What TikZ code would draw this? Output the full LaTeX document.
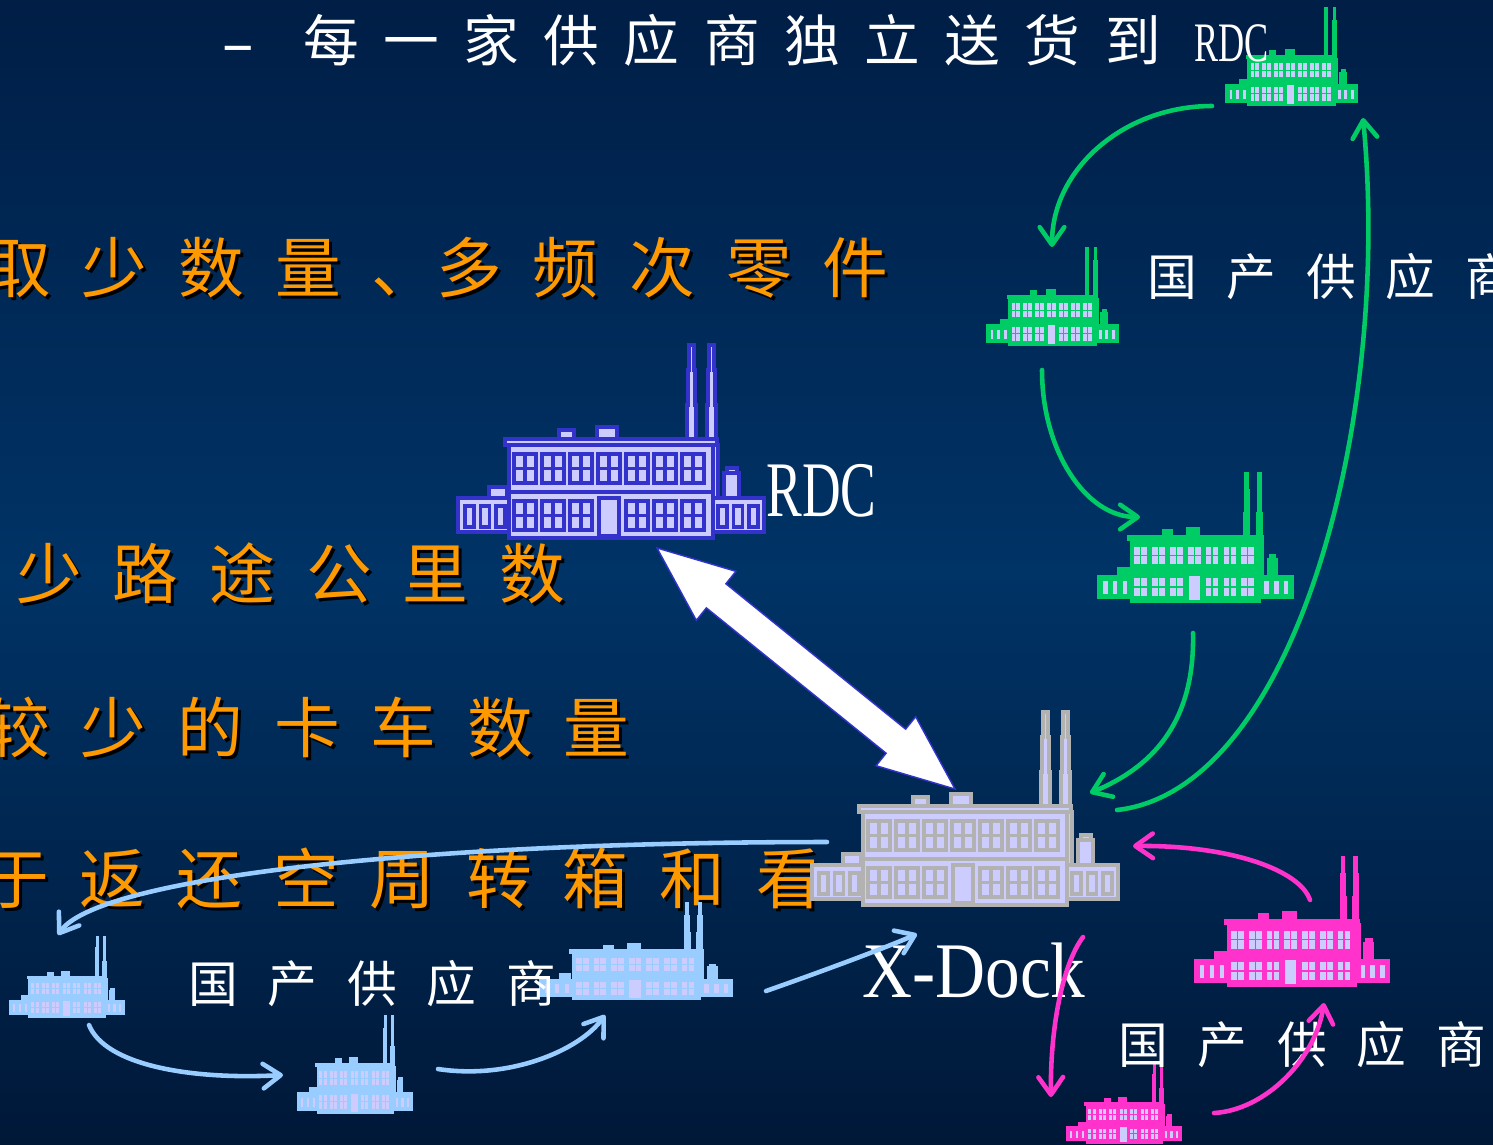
\documentclass[tikz,border=0pt]{standalone}
\usepackage{graphicx}
\usepackage{fontspec}
\setmainfont{Liberation Serif}
\newfontfamily\cjk{Noto Sans CJK SC}
\usetikzlibrary{arrows.meta,calc}

\definecolor{bgtop}{HTML}{001E46}
\definecolor{bgmid}{HTML}{003366}
\definecolor{bgbot}{HTML}{001838}
\definecolor{lav}{HTML}{CCCCFF}
\definecolor{rdcblue}{HTML}{3333CC}
\definecolor{dockgray}{HTML}{B2B2B2}
\definecolor{fgreen}{HTML}{00CC66}
\definecolor{fpink}{HTML}{FF33CC}
\definecolor{fsky}{HTML}{99CCFF}
\definecolor{amber}{HTML}{FF9900}

\tikzset{
  % factory: #1 outline, #2 walls, #3 window panes
  pics/factory/.style n args={3}{code={
    \foreach \cx in {229,249}
      \filldraw[draw=#1,fill=#2] (\cx,96) -- (\cx,60) -- (\cx+1,60) -- (\cx+1,25) -- (\cx+2,25) -- (\cx+2,0)
        -- (\cx+7,0) -- (\cx+7,25) -- (\cx+8,25) -- (\cx+8,60) -- (\cx+9,60) -- (\cx+9,96) -- cycle;
    \filldraw[draw=#1,fill=#2] (101,85) rectangle (116,96) (139,82) rectangle (159,96)
      (31,142) rectangle (49,153) (269,123) rectangle (279,128) (266,128) rectangle (281,153);
    \filldraw[draw=#1,fill=#2] (0,153) rectangle (51,187) (255,153) rectangle (306,187);
    \filldraw[draw=#1,fill=#2] (51,98) rectangle (255,193);
    \filldraw[draw=#1,fill=#2] (47,94) rectangle (259,100);
    \filldraw[draw=#1,fill=#2] (255,100) rectangle (260,153);
    \draw[#1] (51,147) -- (255,147);
    \foreach \k in {0,...,6} {
      \filldraw[draw=#1,fill=#3] (56+28*\k,109) rectangle +(22,29);
      \draw[#1] (67+28*\k,109) -- +(0,29) (56+28*\k,123.5) -- +(22,0);
    }
    \foreach \k in {0,1,2,4,5,6} {
      \filldraw[draw=#1,fill=#3] (56+28*\k,156) rectangle +(22,29);
      \draw[#1] (67+28*\k,156) -- +(0,29) (56+28*\k,170.5) -- +(22,0);
    }
    \filldraw[draw=#1,fill=#3] (141,153) rectangle (161,191);
    \foreach \wx in {7,22.5,38,260,275.5,291}
      \filldraw[draw=#1,fill=#3] (\wx,161) rectangle +(9,21);
  }},
  otext/.style={anchor=west, inner sep=0pt, text=amber,
    font={\fontsize{37.4}{40}\cjk\addfontfeatures{LetterSpace=47}}},
  oshadow/.style={otext, text=black},
  wtext/.style={anchor=west, inner sep=0pt, text=white,
    font={\fontsize{28.3}{30}\cjk\addfontfeatures{LetterSpace=60}}},
  title/.style={anchor=west, inner sep=0pt, text=white, font={\fontsize{31.7}{34}\selectfont}},
  lbl/.style={anchor=west, inner sep=0pt, text=white, font={\fontsize{44.8}{48}\selectfont}},
  bigarrow/.style={fill=white, draw=rdcblue, line width=0.8pt},
  flow/.style={line width=2.6pt, line cap=round, -{Straight Barb[length=10pt,width=14pt,round]}},
  gflow/.style={flow, draw=fgreen},
  pflow/.style={flow, draw=fpink},
  bflow/.style={flow, draw=fsky},
}

\begin{document}
\begin{tikzpicture}[x=0.02cm, y=-0.02cm]
  \useasboundingbox (0,0) rectangle (1493,1144);
  \clip (0,0) rectangle (1493,1144);
  \shade[top color=bgtop, bottom color=bgbot, middle color=bgmid] (0,0) rectangle (1493,1144);

  % orange bullet lines with drop shadow
  \foreach \nm/\x/\y/\txt in {ln1a/-15/268/取少数量、, ln1b/436/268/多频次零件, ln2/16/573/少路途公里数,
      ln3/-16/727/较少的卡车数量, ln4/-17/879/于返还空周转箱和看} {
    \node[oshadow] (\nm-s) at (\x+3,\y+3) {\txt};
    \node[otext] (\nm) at (\x,\y) {\txt};
  }

  % factories
  \pic[line width=2pt] (rdc) at (458,345) {factory={rdcblue}{lav}{lav}};
  \pic[line width=2pt] (dock) at (812,712) {factory={dockgray}{lav}{lav}};
  \pic[xscale=0.428, yscale=0.503, line width=0.6pt] (g1) at (1226,8) {factory={fgreen}{fgreen}{lav}};
  \pic[xscale=0.428, yscale=0.503, line width=0.6pt] (g2) at (987,248) {factory={fgreen}{fgreen}{lav}};
  \pic[xscale=0.637, yscale=0.668, line width=0.8pt] (g3) at (1098,473) {factory={fgreen}{fgreen}{lav}};
  \pic[xscale=0.634, yscale=0.668, line width=0.8pt] (p1) at (1195,857) {factory={fpink}{fpink}{lav}};
  \pic[xscale=0.373, yscale=0.41, line width=0.6pt] (p2) at (1067,1064) {factory={fpink}{fpink}{lav}};
  \pic[xscale=0.373, yscale=0.415, line width=0.6pt] (b1) at (10,937) {factory={fsky}{fsky}{lav}};
  \pic[xscale=0.373, yscale=0.503, line width=0.6pt] (b2) at (298,1016) {factory={fsky}{fsky}{lav}};
  \pic[xscale=0.63, yscale=0.5, line width=0.7pt] (b3) at (540,903) {factory={fsky}{fsky}{lav}};

  % white labels
  \node[title] (head) at (221,40) {\scalebox{1.8}[1]{-}\hspace{27.5pt}{\cjk\addfontfeatures{LetterSpace=44}每一家供应商独立送货到}\hspace{19pt}\scalebox{0.65}[1]{RDC}};
  \node[lbl] (rdc_lbl) at (766,491) {\scalebox{0.68}[1]{RDC}};
  \node[lbl] (dock_lbl) at (862,971) {\scalebox{0.88}[1]{X-Dock}};
  \node[wtext] (sup_a) at (1147,277) {国产供应商};
  \node[wtext] (sup_b) at (188,984) {国产供应商};
  \node[wtext] (sup_c) at (1118,1045) {国产供应商};

  % RDC <-> X-Dock
  \coordinate (rdc_tip) at (657,548);
  \coordinate (dock_tip) at (955,789);
  \filldraw[bigarrow] (rdc_tip)
    -- ($(rdc_tip)!0.1984!(dock_tip)!0.63cm!90:(dock_tip)$)
    -- ($(rdc_tip)!0.1984!(dock_tip)!0.31cm!90:(dock_tip)$)
    -- ($(rdc_tip)!0.8016!(dock_tip)!0.31cm!90:(dock_tip)$)
    -- ($(rdc_tip)!0.8016!(dock_tip)!0.63cm!90:(dock_tip)$)
    -- (dock_tip)
    -- ($(rdc_tip)!0.8016!(dock_tip)!0.63cm!-90:(dock_tip)$)
    -- ($(rdc_tip)!0.8016!(dock_tip)!0.31cm!-90:(dock_tip)$)
    -- ($(rdc_tip)!0.1984!(dock_tip)!0.31cm!-90:(dock_tip)$)
    -- ($(rdc_tip)!0.1984!(dock_tip)!0.63cm!-90:(dock_tip)$)
    -- cycle;

  % milk run ends
  \coordinate (g1_out) at (1212,106);
  \coordinate (g2_in) at (1052,247);
  \coordinate (g2_out) at (1042,370);
  \coordinate (g3_in) at (1140,517);
  \coordinate (g3_out) at (1193,633);
  \coordinate (dock_in) at (1090,793);
  \coordinate (dock_out) at (1117,810);
  \coordinate (g1_in) at (1363,118);
  \coordinate (p1_out) at (1310,900);
  \coordinate (dock_pin) at (1133,846);
  \coordinate (dock_pout) at (1083,937);
  \coordinate (p2_in) at (1051,1097);
  \coordinate (p2_out) at (1214,1113);
  \coordinate (p1_in) at (1324,1003);
  \coordinate (dock_bout) at (827,842);
  \coordinate (b1_in) at (58,935);
  \coordinate (b1_out) at (89,1025);
  \coordinate (b2_in) at (283,1075);
  \coordinate (b2_out) at (438,1069);
  \coordinate (b3_in) at (605,1015);
  \coordinate (b3_out) at (766,991);
  \coordinate (dock_bin) at (917,934);

  % Connect the nodes
  \draw[gflow] (g1_out) .. controls (1124,106) and (1052,169) .. (g2_in);
  \draw[gflow] (g2_out) .. controls (1042,451) and (1086,517) .. (g3_in);
  \draw[gflow] (g3_out) .. controls (1195,725) and (1150,768) .. (dock_in);
  \draw[gflow] (dock_out) .. controls (1295,790) and (1392,420) .. (g1_in);
  \draw[pflow] (p1_out) .. controls (1300,870) and (1230,845) .. (dock_pin);
  \draw[pflow] (dock_pout) .. controls (1062,965) and (1050,1030) .. (p2_in);
  \draw[pflow] (p2_out) .. controls (1265,1110) and (1315,1060) .. (p1_in);
  \draw[bflow] (dock_bout) .. controls (400,842) and (95,880) .. (b1_in);
  \draw[bflow] (b1_out) .. controls (105,1065) and (190,1080) .. (b2_in);
  \draw[bflow] (b2_out) .. controls (510,1080) and (580,1050) .. (b3_in);
  \draw[bflow] (b3_out) .. controls (820,972) and (880,950) .. (dock_bin);
\end{tikzpicture}
\end{document}
